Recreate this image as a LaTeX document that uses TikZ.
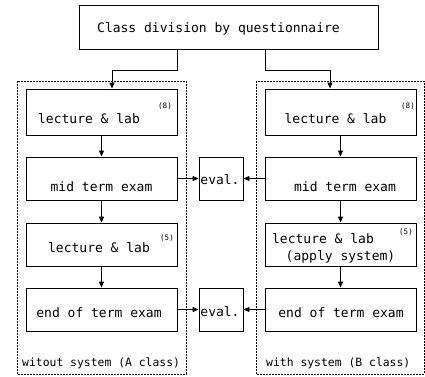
\documentclass[tikz,border=0pt]{standalone}
\usepackage{fontspec}
\setmonofont{DejaVu Sans Mono}
\usetikzlibrary{arrows.meta}
\begin{document}
\begin{tikzpicture}[x=1pt,y=-1pt,
    flowbox/.style={draw, line width=0.9pt, inner sep=0pt, minimum width=151pt, minimum height=43pt},
    boxtext/.style={font=\ttfamily\fontsize{13}{15}\selectfont, inner sep=0pt},
    smallnum/.style={font=\ttfamily\fontsize{7.5}{9}\selectfont, inner sep=0pt},
    classlabel/.style={font=\ttfamily\fontsize{11.4}{13}\selectfont, inner sep=0pt, anchor=west},
    classframe/.style={draw, line width=0.8pt, dash pattern=on 2pt off 1pt},
    flowarrow/.style={line width=0.9pt, -{Triangle[length=6pt,width=5pt]}}]
  \useasboundingbox (0,0) rectangle (425,376);
  % the two class frames
  \draw[classframe] (17,81) rectangle (186,374);
  \draw[classframe] (256,81) rectangle (424,374);
  \node[classlabel] (labA) at (22,363) {witout system (A class)};
  \node[classlabel] (labB) at (266,363) {with system (B class)};
  % top box
  \node[flowbox, minimum width=299pt, minimum height=44pt] (top) at (228.5,27) {};
  \node[boxtext] (toptxt) at (218.5,29) {Class division by questionnaire};
  % A class column
  \node[flowbox, minimum height=46pt] (a1) at (101.5,112) {};
  \node[flowbox] (a2) at (101.5,178.5) {};
  \node[flowbox] (a3) at (101.5,244.5) {};
  \node[flowbox] (a4) at (101.5,309.5) {};
  \node[boxtext] (a1txt) at (89,119) {lecture \& lab};
  \node[smallnum] (a1num) at (165,106) {(8)};
  \node[boxtext] (a2txt) at (101.5,187) {mid term exam};
  \node[boxtext] (a3txt) at (99,248) {lecture \& lab};
  \node[smallnum] (a3num) at (167,238) {(5)};
  \node[boxtext] (a4txt) at (99,313) {end of term exam};
  % B class column
  \node[flowbox, minimum height=46pt] (b1) at (340.5,112) {};
  \node[flowbox] (b2) at (340.5,178.5) {};
  \node[flowbox] (b3) at (340.5,244.5) {};
  \node[flowbox] (b4) at (340.5,309.5) {};
  \node[boxtext] (b1txt) at (335.5,119) {lecture \& lab};
  \node[smallnum] (b1num) at (408,106) {(8)};
  \node[boxtext] (b2txt) at (345,187) {mid term exam};
  \node[boxtext] (b3txt) at (323,239) {lecture \& lab};
  \node[boxtext] (b3sub) at (340.5,257) {(apply system)};
  \node[smallnum] (b3num) at (406,232) {(5)};
  \node[boxtext] (b4txt) at (341,313) {end of term exam};
  % evaluation boxes
  \node[flowbox, minimum width=44pt] (e1) at (221,178.5) {};
  \node[flowbox, minimum width=44pt] (e2) at (221,309.5) {};
  \node[boxtext] (e1txt) at (220,180) {eval.};
  \node[boxtext] (e2txt) at (220,312) {eval.};
  % connectors
  \coordinate (outA) at (177,70);
  \coordinate (outB) at (265,70);
  \coordinate (splitA) at (112,70);
  \coordinate (splitB) at (330,70);
  \draw[flowarrow] (top.south -| outA) -- (outA) -- (splitA) -- (a1.north -| splitA);
  \draw[flowarrow] (top.south -| outB) -- (outB) -- (splitB) -- (b1.north -| splitB);
  \draw[flowarrow] (a1) -- (a2);
  \draw[flowarrow] (a2) -- (a3);
  \draw[flowarrow] (a3) -- (a4);
  \draw[flowarrow] (b1) -- (b2);
  \draw[flowarrow] (b2) -- (b3);
  \draw[flowarrow] (b3) -- (b4);
  \draw[flowarrow] (a2) -- (e1);
  \draw[flowarrow] (b2) -- (e1);
  \draw[flowarrow] (a4) -- (e2);
  \draw[flowarrow] (b4) -- (e2);
\end{tikzpicture}
\end{document}
